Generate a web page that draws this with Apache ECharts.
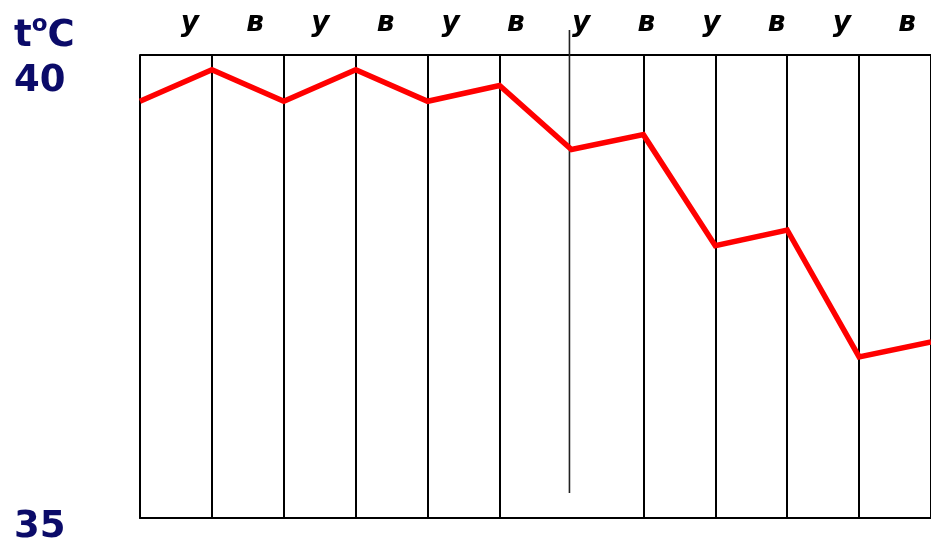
<!DOCTYPE html>
<html>
<head>
<meta charset="utf-8">
<script src="https://cdn.jsdelivr.net/npm/echarts@6/dist/echarts.min.js"></script>
<style>
html,body{margin:0;padding:0;background:#fff;}
#chart{width:931px;height:542px;}
</style>
</head>
<body>
<div id="chart"></div>
<script>
// Time slots: у = утро (morning), в = вечер (evening)
const periods = ['у', 'в', 'у', 'в', 'у', 'в', 'у', 'в', 'у', 'в', 'у', 'в'];
// Body temperature, °C
const temps = [39.50, 39.84, 39.50, 39.84, 39.50, 39.67, 38.98, 39.14, 37.94, 38.11, 36.74, 36.90];
// Y axis range / tick labels
const yMin = 35;
const yMax = 40;
const yTickLabels = ['35', '40'];
const unitParts = ['t', 'o', 'C'];

const NAVY = '#0b0b69';
const chart = echarts.init(document.getElementById('chart'), null, {renderer: 'canvas'});

const option = {
  animation: false,
  backgroundColor: '#ffffff',
  title: {
    text: '{m|' + unitParts[0] + '}{s|' + unitParts[1] + '}{m|' + unitParts[2] + '}',
    left: 14,
    top: 14,
    padding: 0,
    textStyle: {
      rich: {
        m: {fontSize: 37, fontWeight: 'bold', color: NAVY, fontFamily: 'DejaVu Sans'},
        s: {fontSize: 23, fontWeight: 'bold', color: NAVY, fontFamily: 'DejaVu Sans', padding: [0, 0, 22, 0]}
      }
    }
  },
  grid: [
    {left: 140, right: 0, top: 55, bottom: 24, containLabel: false, outerBoundsMode: 'none'},
    {left: 190, right: 24, top: 32, height: 2, containLabel: false, outerBoundsMode: 'none'}
  ],
  xAxis: [
    {
      type: 'category',
      gridIndex: 0,
      data: periods,
      boundaryGap: false,
      axisLine: {show: true, lineStyle: {color: '#000', width: 2}},
      axisTick: {show: false},
      axisLabel: {show: false},
      splitLine: {
        show: true,
        interval: function (index) { return index !== 6; },
        lineStyle: {color: '#000', width: 2}
      }
    },
    {
      type: 'category',
      gridIndex: 1,
      position: 'top',
      data: periods,
      boundaryGap: false,
      axisLine: {show: false},
      axisTick: {show: false},
      splitLine: {show: false},
      axisLabel: {
        show: true,
        interval: 0,
        margin: 8,
        verticalAlign: 'middle',
        fontSize: 28,
        fontWeight: 'bold',
        fontStyle: 'italic',
        fontFamily: 'DejaVu Sans',
        color: '#000'
      }
    }
  ],
  yAxis: [
    {
      type: 'value',
      gridIndex: 0,
      min: yMin,
      max: yMax,
      interval: yMax - yMin,
      axisLine: {show: true, lineStyle: {color: '#000', width: 2}},
      axisTick: {show: false},
      splitLine: {show: true, lineStyle: {color: '#000', width: 2}},
      axisLabel: {
        show: true,
        align: 'left',
        margin: 126,
        formatter: function (v) {
          const s = String(v);
          if (s === yTickLabels[1]) return '{hi|' + s + '}';
          if (s === yTickLabels[0]) return '{lo|' + s + '}';
          return '';
        },
        rich: {
          hi: {fontSize: 37, fontWeight: 'bold', color: NAVY, fontFamily: 'DejaVu Sans', padding: [52, 0, 0, 0]},
          lo: {fontSize: 37, fontWeight: 'bold', color: NAVY, fontFamily: 'DejaVu Sans', padding: [18, 0, 0, 0]}
        }
      }
    },
    {
      type: 'value',
      gridIndex: 1,
      show: false
    }
  ],
  series: [
    {
      type: 'line',
      xAxisIndex: 0,
      yAxisIndex: 0,
      data: temps,
      showSymbol: false,
      symbol: 'none',
      clip: false,
      lineStyle: {color: '#ff0000', width: 5.5, join: 'miter'},
      z: 5
    }
  ]
};

chart.setOption(option);

// The single separator line (between the 3rd and 4th day) is drawn offset upward
const sepX = chart.convertToPixel({xAxisIndex: 0}, 6) - 2;
const topY = chart.convertToPixel({yAxisIndex: 0}, yMax);
const botY = chart.convertToPixel({yAxisIndex: 0}, yMin);
chart.setOption({
  graphic: [{
    type: 'line',
    shape: {x1: sepX, y1: topY - 25, x2: sepX, y2: botY - 25},
    style: {stroke: '#222', lineWidth: 1.6},
    z: 3
  }]
});
</script>
</body>
</html>
